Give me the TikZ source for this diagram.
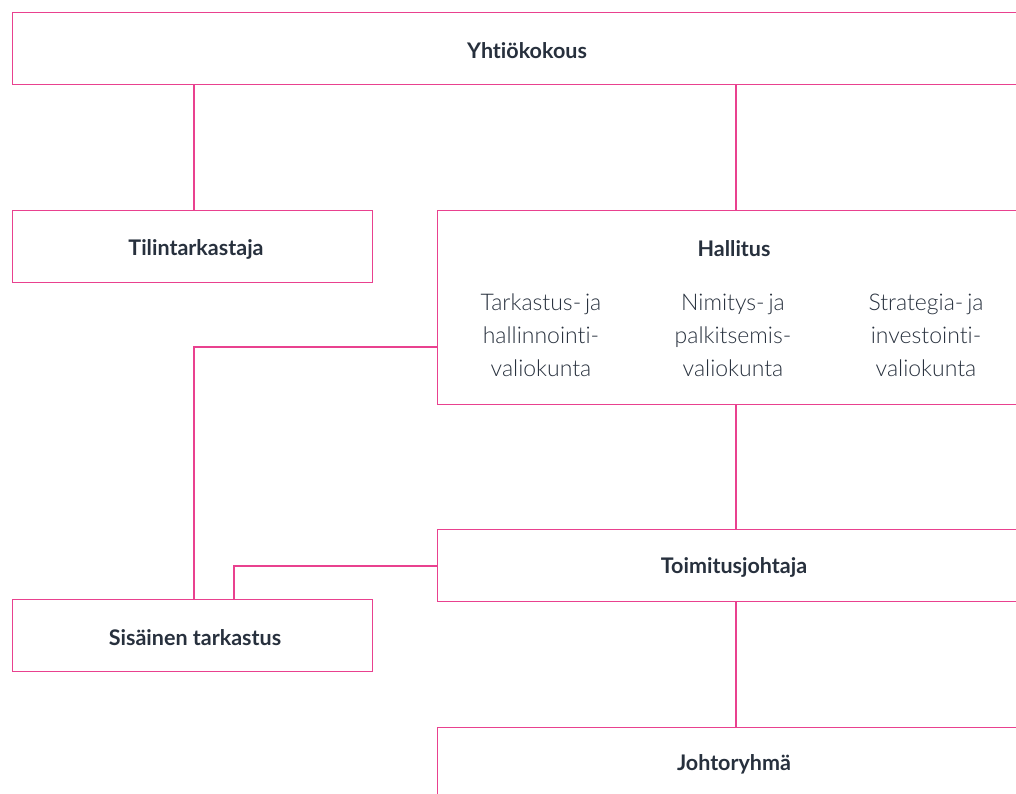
\documentclass[tikz,border=0pt]{standalone}
\usepackage{fontspec}
\setmainfont{Lato}[Ligatures={NoCommon}]
\newfontfamily\lightfont{Lato Light}[Ligatures={NoCommon}]
\definecolor{orgpink}{HTML}{E9418F}
\definecolor{orgtext}{HTML}{27303D}
\begin{document}
\begin{tikzpicture}[x=1pt,y=-1pt,
  titlefont/.style={font=\fontsize{21.5}{24}\selectfont\bfseries},
  orgbox/.style={draw=orgpink, line width=1.3pt, rectangle, anchor=north west,
    inner sep=0pt, text=orgtext, titlefont, text depth=0pt},
  boxtitle/.style={text=orgtext, titlefont, inner sep=0pt},
  committee/.style={text=orgtext, align=center, inner sep=0pt,
    font=\lightfont\fontsize{23}{33}\selectfont},
  link/.style={draw=orgpink, line width=1.3pt}]
\useasboundingbox (0,0) rectangle (1016,793);
\clip (0,0) rectangle (1016,793);
% boxes (the wide ones run past the right edge)
\node[orgbox, minimum width=1031pt, minimum height=72pt] (yk) at (12,12) {};
\node[orgbox, minimum width=360pt, minimum height=72pt] (til) at (12,210) {};
\node[orgbox, minimum width=594pt, minimum height=194pt] (hall) at (437,210) {};
\node[orgbox, minimum width=594pt, minimum height=72pt] (toim) at (437,529) {};
\node[orgbox, minimum width=360pt, minimum height=72pt] (sis) at (12,599) {};
\node[orgbox, minimum width=594pt, minimum height=110pt] (joht) at (437,727) {};
% box titles
\node[boxtitle] (ykt) at (527,51) {Yhtiökokous};
\node[boxtitle] (tilt) at (196,249) {Tilintarkastaja};
\node[boxtitle] (hallt) at (734,249) {Hallitus};
\node[boxtitle] (toimt) at (734,567) {Toimitusjohtaja};
\node[boxtitle] (sist) at (195,638) {Sisäinen tarkastus};
\node[boxtitle] (johtt) at (734,764) {Johtoryhmä};
% board committees
\node[committee] (c1) at (541,335) {Tarkastus-\,ja\\hallinnointi-\\valiokunta};
\node[committee] (c2) at (733,335) {Nimitys-\,ja\\palkitsemis-\\valiokunta};
\node[committee] (c3) at (926,335) {Strategia-\,ja\\investointi-\\valiokunta};
% connectors
\coordinate (ykA) at (194,84);
\coordinate (ykB) at (736,84);
\draw[link] (ykA) -- (ykA |- til.north);
\draw[link] (ykB) -- (ykB |- hall.north);
\coordinate (hallOut) at (437,347);
\draw[link] (hallOut) -| (ykA |- sis.north);
\coordinate (hallB) at (736,404);
\draw[link] (hallB) -- (hallB |- toim.north);
\coordinate (toimOut) at (437,566);
\coordinate (sisIn) at (234,599);
\draw[link] (toimOut) -| (sisIn);
\coordinate (toimB) at (736,601);
\draw[link] (toimB) -- (toimB |- joht.north);
\end{tikzpicture}
\end{document}
